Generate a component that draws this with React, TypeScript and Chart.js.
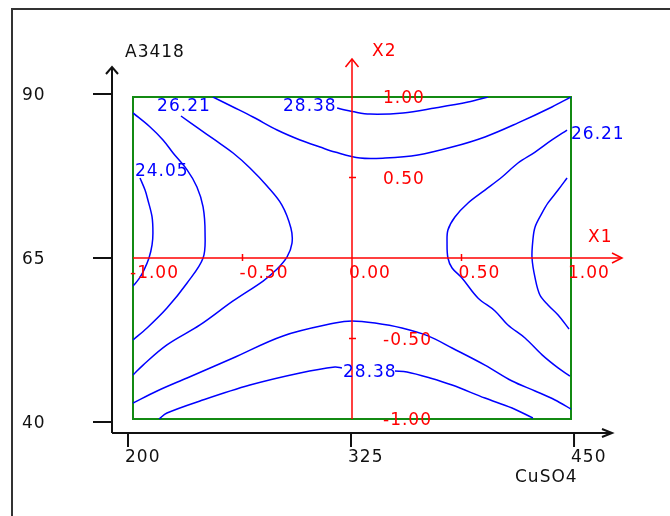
import React, { useEffect, useRef } from "react";
import { Chart, registerables } from "chart.js";

Chart.register(...registerables);

// Response levels of the fitted surface
const levels = [24.05, 25.13, 26.21, 27.3, 28.38];

// Contour traces in coded units [X1, X2]
const left2405: [number, number][] = [
  [-0.968, 0.497], [-0.945, 0.422], [-0.932, 0.36], [-0.913, 0.255], [-0.909, 0.155],
  [-0.913, 0.081], [-0.927, 0.0], [-0.95, -0.075], [-0.973, -0.13], [-1.0, -0.174],
];
const left2513: [number, number][] = [
  [-1.0, 0.901], [-0.922, 0.814], [-0.863, 0.733], [-0.817, 0.652], [-0.753, 0.547],
  [-0.708, 0.441], [-0.68, 0.317], [-0.671, 0.155], [-0.68, 0.0], [-0.753, -0.155],
  [-0.845, -0.311], [-0.936, -0.435], [-1.0, -0.509],
];
const left2621: [number, number][] = [
  [-0.781, 0.882], [-0.703, 0.807], [-0.626, 0.733], [-0.543, 0.652], [-0.466, 0.559],
  [-0.388, 0.447], [-0.32, 0.329], [-0.279, 0.186], [-0.274, 0.093], [-0.297, 0.006],
  [-0.347, -0.075], [-0.406, -0.143], [-0.543, -0.267], [-0.694, -0.416], [-0.845, -0.54],
  [-0.954, -0.665], [-1.0, -0.727],
];
const right2513: [number, number][] = [
  [0.982, 0.497], [0.941, 0.422], [0.895, 0.342], [0.868, 0.28], [0.836, 0.193],
  [0.826, 0.112], [0.822, 0.0], [0.836, -0.124], [0.858, -0.23], [0.895, -0.292],
  [0.941, -0.354], [0.991, -0.441],
];
const right2621: [number, number][] = [
  [0.982, 0.795], [0.913, 0.733], [0.836, 0.658], [0.758, 0.59], [0.685, 0.503],
  [0.607, 0.422], [0.53, 0.342], [0.47, 0.255], [0.438, 0.174], [0.434, 0.093],
  [0.438, 0.0], [0.457, -0.062], [0.502, -0.124], [0.575, -0.248], [0.653, -0.329],
  [0.712, -0.416], [0.79, -0.497], [0.868, -0.602], [0.941, -0.683], [0.995, -0.733],
];
const top2730: [number, number][] = [
  [-0.635, 1.0], [-0.543, 0.938], [-0.452, 0.876], [-0.342, 0.795], [-0.237, 0.733],
  [-0.146, 0.689], [-0.078, 0.658], [0.037, 0.621], [0.151, 0.621], [0.301, 0.64],
  [0.457, 0.689], [0.607, 0.752], [0.758, 0.839], [0.913, 0.938], [1.0, 1.0],
];
const top2838: [number, number][] = [
  [-0.068, 0.932], [-0.032, 0.919], [0.0, 0.91], [0.082, 0.894], [0.233, 0.901],
  [0.379, 0.932], [0.53, 0.969], [0.621, 1.0],
];
const bottom2730: [number, number][] = [
  [-1.0, -0.901], [-0.89, -0.826], [-0.753, -0.745], [-0.543, -0.621], [-0.315, -0.484],
  [-0.078, -0.404], [0.0, -0.391], [0.105, -0.404], [0.228, -0.435], [0.347, -0.484],
  [0.457, -0.559], [0.607, -0.665], [0.731, -0.764], [0.836, -0.826], [0.927, -0.882],
  [1.0, -0.938],
];
const bottom2838a: [number, number][] = [
  [-0.881, -1.0], [-0.845, -0.963], [-0.694, -0.888], [-0.466, -0.789], [-0.237, -0.714],
  [-0.078, -0.677], [-0.046, -0.683],
];
const bottom2838b: [number, number][] = [
  [0.196, -0.702], [0.251, -0.708], [0.356, -0.745], [0.457, -0.789], [0.607, -0.87],
  [0.731, -0.932], [0.826, -0.994],
];

const contourTraces: [number, [number, number][]][] = [
  [0, left2405], [1, left2513], [2, left2621], [1, right2513], [2, right2621],
  [3, top2730], [4, top2838], [3, bottom2730], [4, bottom2838a], [4, bottom2838b],
];

// Level label anchors: [level index, X1, X2]
const levelLabels: [number, number, number][] = [
  [2, -0.89, 0.938],
  [4, -0.315, 0.938],
  [0, -0.991, 0.534],
  [2, 1.0, 0.764],
  [4, -0.041, -0.714],
];

// Coded design axes
const codedTicks = [-1, -0.5, 0, 0.5, 1];
// Natural-unit axes
const cuso4Ticks = [200, 325, 450];
const a3418Ticks = [40, 65, 90];

const BLUE = "#0000ff";
const RED = "#ff0000";
const GREEN = "#138a13";
const BLACK = "#111111";
const FONT = "17px 'DejaVu Sans', Verdana, sans-serif";

function polyline(ctx: CanvasRenderingContext2D, pts: [number, number][]) {
  ctx.beginPath();
  pts.forEach(([px, py], i) => (i ? ctx.lineTo(px, py) : ctx.moveTo(px, py)));
  ctx.stroke();
}

function label(
  ctx: CanvasRenderingContext2D,
  text: string,
  px: number,
  py: number,
  color: string,
  align: CanvasTextAlign = "left"
) {
  ctx.fillStyle = color;
  ctx.textAlign = align;
  ctx.textBaseline = "middle";
  ctx.fillText(text, px, py);
}

const overlay = {
  id: "overlay",
  beforeDatasetsDraw(chart: any) {
    const { ctx } = chart;
    const x = chart.scales.x;
    const y = chart.scales.y;
    ctx.save();
    // outer frame
    ctx.strokeStyle = "#333";
    ctx.lineWidth = 2;
    polyline(ctx, [[12, 516], [12, 9], [670, 9]]);
    // design region
    ctx.strokeStyle = GREEN;
    ctx.lineWidth = 2;
    const l = x.getPixelForValue(-1);
    const r = x.getPixelForValue(1);
    const t = y.getPixelForValue(1);
    const b = y.getPixelForValue(-1);
    ctx.strokeRect(l, t, r - l, b - t);
    ctx.restore();
  },
  afterDatasetsDraw(chart: any) {
    const { ctx, chartArea: a } = chart;
    const x = chart.scales.x;
    const y = chart.scales.y;
    const xr = chart.scales.xr;
    const yr = chart.scales.yr;
    ctx.save();
    ctx.font = FONT;
    (ctx as any).letterSpacing = "1px";

    // coded axes X1 / X2
    const cx = x.getPixelForValue(0);
    const cy = y.getPixelForValue(0);
    ctx.strokeStyle = RED;
    ctx.lineWidth = 1.5;
    const x1Tip = a.right + 51;
    const x2Tip = a.top - 38;
    polyline(ctx, [[a.left, cy], [x1Tip, cy]]);
    polyline(ctx, [[x1Tip - 10, cy - 5], [x1Tip, cy], [x1Tip - 10, cy + 5]]);
    polyline(ctx, [[cx, a.bottom], [cx, x2Tip]]);
    polyline(ctx, [[cx - 6.5, x2Tip + 8], [cx, x2Tip], [cx + 6.5, x2Tip + 8]]);
    codedTicks.forEach((v) => {
      if (v === 0 || Math.abs(v) === 1) return;
      const px = x.getPixelForValue(v);
      polyline(ctx, [[px, cy - 4], [px, cy + 3]]);
      const py = y.getPixelForValue(v);
      polyline(ctx, [[cx - 3, py], [cx + 4, py]]);
    });
    codedTicks.forEach((v) => {
      label(ctx, v.toFixed(2), x.getPixelForValue(v) - 3, cy + 16, RED);
      if (v !== 0) label(ctx, v.toFixed(2), cx + 31, y.getPixelForValue(v) + 2, RED);
    });
    label(ctx, "X1", a.right + 17, cy - 20, RED);
    label(ctx, "X2", cx + 20, a.top - 45, RED);

    // natural axes
    const axX = a.left - 21;
    const axY = a.bottom + 14;
    ctx.strokeStyle = BLACK;
    ctx.lineWidth = 2;
    const yTip = a.top - 30;
    const xTip = a.right + 41;
    polyline(ctx, [[axX, axY], [axX, yTip]]);
    polyline(ctx, [[axX - 6, yTip + 7], [axX, yTip], [axX + 6, yTip + 7]]);
    polyline(ctx, [[axX, axY], [xTip, axY]]);
    polyline(ctx, [[xTip - 10, axY - 4], [xTip, axY], [xTip - 10, axY + 4]]);
    a3418Ticks.forEach((v) => {
      const py = yr.getPixelForValue(v);
      polyline(ctx, [[axX - 19, py], [axX, py]]);
      label(ctx, String(v), 22, py + 2, BLACK);
    });
    cuso4Ticks.forEach((v) => {
      const px = xr.getPixelForValue(v);
      polyline(ctx, [[px, axY], [px, axY + 14]]);
      label(ctx, String(v), px - 3, axY + 25, BLACK);
    });
    label(ctx, "A3418", 125, 53, BLACK);
    label(ctx, "CuSO4", 515, 478, BLACK);

    // contour level labels
    levelLabels.forEach(([li, lx, ly]) => {
      label(ctx, levels[li].toFixed(2), x.getPixelForValue(lx), y.getPixelForValue(ly), BLUE);
    });
    ctx.restore();
  },
};

export default function App() {
  const ref = useRef<HTMLCanvasElement | null>(null);

  useEffect(() => {
    if (!ref.current) return;
    const chart = new Chart(ref.current, {
      type: "scatter",
      data: {
        datasets: contourTraces.map(([li, pts]) => ({
          label: levels[li].toFixed(2),
          data: pts.map(([px, py]) => ({ x: px, y: py })),
          showLine: true,
          borderColor: BLUE,
          backgroundColor: BLUE,
          borderWidth: 1.5,
          pointRadius: 0,
          tension: 0.35,
          fill: false,
          xAxisID: "x",
          yAxisID: "y",
        })),
      },
      options: {
        animation: false,
        responsive: false,
        devicePixelRatio: 1,
        layout: { padding: { left: 133, right: 99, top: 97, bottom: 97 } },
        plugins: { legend: { display: false }, tooltip: { enabled: false } },
        scales: {
          x: { type: "linear", min: -1, max: 1, display: false },
          y: { type: "linear", min: -1, max: 1, display: false },
          xr: { type: "linear", axis: "x", min: 202.8, max: 448.3, display: false },
          yr: { type: "linear", axis: "y", min: 40.46, max: 89.54, display: false },
        },
      },
      plugins: [overlay],
    });
    return () => chart.destroy();
  }, []);

  return (
    <div style={{ position: "absolute", left: 0, top: 0, width: 670, height: 516, background: "#fff" }}>
      <canvas ref={ref} width={670} height={516} />
    </div>
  );
}
